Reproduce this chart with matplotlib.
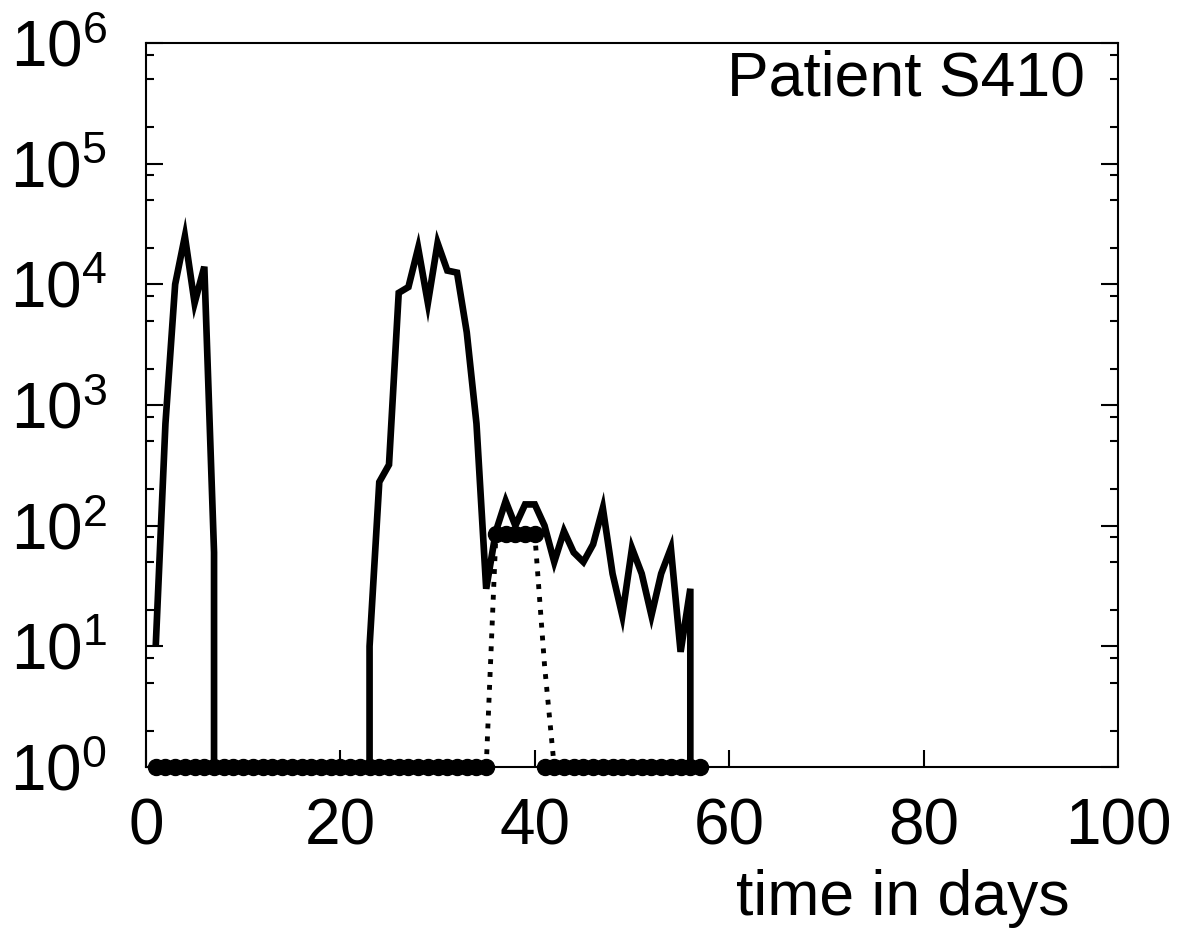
import matplotlib
matplotlib.use('Agg')
import matplotlib.pyplot as plt
import numpy as np
from matplotlib.ticker import LogLocator, NullFormatter

plt.rcParams['font.family'] = ['Liberation Sans', 'DejaVu Sans']
plt.rcParams['mathtext.fontset'] = 'custom'
plt.rcParams['mathtext.rm'] = 'Liberation Sans'
plt.rcParams['mathtext.it'] = 'Liberation Sans'

# solid line: measured load, first episode
days_a = [1, 2, 3, 4, 5, 6, 7, 7]
load_a = [10, 700, 1e4, 2.5e4, 7e3, 1.4e4, 60, 1]

# solid line: second episode
days_b = [23, 23, 24, 25, 26, 27, 28, 29, 30, 31, 32, 33, 34, 35, 36, 37, 38,
          39, 40, 41, 42, 43, 44, 45, 46, 47, 48, 49, 50, 51, 52, 53, 54, 55,
          56, 56]
load_b = [1, 10, 230, 320, 8500, 9500, 2e4, 7000, 2.2e4, 1.3e4, 1.25e4, 4000,
          700, 30, 90, 160, 100, 150, 150, 100, 50, 90, 60, 50, 70, 140, 40,
          18, 65, 40, 18, 40, 65, 9, 30, 1]

# dotted curve
days_c = [35, 36, 37, 38, 39, 40, 41, 42]
load_c = [1, 85, 85, 85, 85, 85, 7, 1]

# dot markers, one per day
days_d = list(range(1, 58))
load_d = [85 if 36 <= d <= 40 else 1 for d in days_d]

fig = plt.figure(figsize=(11.86, 9.34), dpi=100)
ax = fig.add_axes([146 / 1186, 1 - 767 / 934, 972 / 1186, 724 / 934])

ax.plot(days_a, load_a, color='black', lw=4.8, solid_joinstyle='miter',
        solid_capstyle='butt')
ax.plot(days_b, load_b, color='black', lw=4.8, solid_joinstyle='miter',
        solid_capstyle='butt')
ax.plot(days_c, load_c, color='black', lw=3.5, linestyle=':')
ax.plot(days_d, load_d, linestyle='none', marker='o', ms=11.5,
        color='black', clip_on=False)

ax.set_yscale('log')
ax.set_xlim(0, 100)
ax.set_ylim(1, 1e6)
ax.set_xticks([0, 20, 40, 60, 80, 100])
ax.yaxis.set_major_locator(LogLocator(base=10, numticks=10))
ax.yaxis.set_minor_locator(LogLocator(base=10, subs=(2, 5, 8), numticks=10))
ax.yaxis.set_minor_formatter(NullFormatter())

ax.tick_params(axis='both', which='major', direction='in', length=12,
               width=1.5, labelsize=46)
ax.tick_params(axis='y', which='both', right=True)
ax.tick_params(axis='y', which='minor', direction='in', length=6, width=1.5)
ax.tick_params(axis='y', which='major', pad=28)
ax.tick_params(axis='x', which='major', pad=22)
for s in ax.spines.values():
    s.set_linewidth(1.5)

ax.text(0.966, 0.928, 'Patient S410', transform=ax.transAxes, ha='right',
        va='baseline', fontsize=45)
ax.text(0.95, -0.205, 'time in days', transform=ax.transAxes, ha='right',
        va='baseline', fontsize=45)

fig.savefig('out.png', dpi=100)
